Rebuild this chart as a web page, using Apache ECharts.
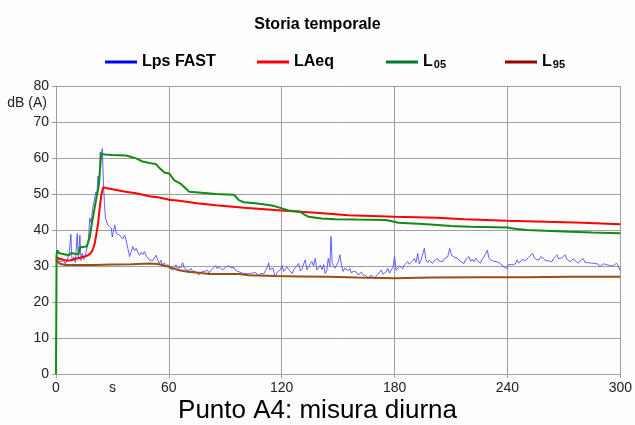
<!DOCTYPE html>
<html>
<head>
<meta charset="utf-8">
<script src="https://cdn.jsdelivr.net/npm/echarts@6/dist/echarts.min.js"></script>
<style>
html,body{margin:0;padding:0;background:#fdfdfd;}
#chart{width:635px;height:425px;}
</style>
</head>
<body>
<div id="chart"></div>
<script>
// ---- data (time in s, level in dB(A)) ----
const seriesNames = ['Lps FAST', 'LAeq', 'L05', 'L95'];
const xTicks = [0, 60, 120, 180, 240, 300];
const yTicks = [0, 10, 20, 30, 40, 50, 60, 70, 80];

const lpsFast = [[0,32.8],[1,32.0],[2,31.2],[3,30.8],[4,31.5],[5,30.6],[6,31.8],[7,33.5],[7.9,38.8],[8.5,31.5],[9.5,32.5],[10.3,31.0],[11.3,39.0],[11.9,32.0],[12.7,38.6],[13.3,31.5],[14,33.5],[14.8,31.8],[15.5,33.0],[16.2,32.5],[17,36.0],[18,43.3],[18.7,42.0],[19.5,46.0],[20.3,45.5],[21.2,50.6],[21.7,49.5],[22.3,55.0],[22.9,53.0],[23.5,61.7],[24,60.5],[24.6,62.6],[25.2,53.4],[25.8,47.0],[26.3,43.3],[26.8,43.2],[27.5,41.4],[28.5,41.8],[29.4,40.5],[29.9,38.1],[31.2,41.4],[32.1,39.0],[32.9,39.5],[33.8,38.6],[34.7,38.1],[35.5,37.5],[36.5,38.6],[37.3,37.0],[38.2,34.9],[39.1,32.6],[40,34.0],[40.8,35.4],[41.7,34.2],[42.6,34.9],[43.5,33.8],[44.4,33.0],[45.3,33.8],[46.2,33.2],[47,34.0],[48,32.8],[48.8,33.3],[49.7,31.7],[50.5,32.2],[51.5,31.5],[52.3,32.0],[53.2,33.0],[54,31.8],[54.9,30.7],[55.8,31.6],[56.7,30.2],[57.6,30.9],[58.5,29.8],[59.4,30.4],[60.2,29.5],[61,30.0],[62,28.9],[62.9,29.6],[63.8,30.3],[64.6,29.4],[65.5,29.0],[66.4,29.6],[67.3,30.9],[68.2,29.5],[69,28.9],[70,29.2],[70.8,28.7],[71.7,29.3],[72.6,28.6],[73.5,29.0],[74.3,28.4],[75.2,28.9],[76,27.5],[77,28.3],[77.8,27.9],[78.7,28.5],[79.6,28.0],[80.5,28.8],[81.4,28.1],[82.3,28.6],[83.2,29.2],[84,29.6],[84.9,30.1],[85.8,29.2],[86.6,29.9],[87.5,29.4],[88.4,28.9],[89.3,28.9],[90.1,29.6],[91,29.2],[91.9,30.1],[92.8,29.5],[93.7,29.0],[94.6,29.6],[95.4,28.8],[96.3,28.9],[97.2,28.4],[98.1,28.7],[99,28.0],[99.8,28.5],[100.7,27.9],[101.6,28.4],[102.5,27.8],[103.4,28.3],[104.3,28.0],[105.2,27.6],[106,28.2],[106.9,27.8],[107.8,27.3],[108.7,27.9],[109.6,28.3],[110.4,27.8],[111.3,28.7],[112.2,29.5],[113.1,30.9],[113.6,29.0],[114.4,28.6],[115.4,29.4],[116.1,27.8],[116.6,27.0],[117.5,28.2],[118.4,27.9],[119.3,29.0],[120.2,30.1],[121,28.5],[121.9,28.7],[122.8,29.7],[123.7,29.2],[124.6,28.5],[125.5,27.9],[126.3,29.0],[127.2,29.4],[128.1,30.0],[129,30.7],[129.9,28.6],[130.8,29.3],[131.6,30.5],[132.5,31.7],[133.4,29.0],[134.3,29.8],[135.2,30.6],[136,31.3],[136.9,30.0],[137.8,32.1],[138.7,28.9],[139.5,29.4],[140.5,30.2],[141.4,29.0],[142.3,30.4],[143.1,27.9],[144,28.8],[144.7,32.1],[145.6,30.0],[146.2,38.2],[146.8,31.0],[147.4,30.2],[148.3,29.4],[149.2,30.3],[150.1,31.2],[150.9,33.1],[151.8,30.1],[152.6,28.5],[153.5,29.4],[154.4,29.0],[155.3,28.7],[156.2,29.3],[157.1,28.0],[158,28.6],[158.9,28.8],[159.7,28.3],[160.6,27.5],[161.5,28.0],[162.4,28.3],[163.2,27.6],[164.1,27.8],[165,27.2],[165.9,26.6],[166.8,27.0],[167.6,27.5],[168.5,27.2],[169.4,26.4],[170.3,27.3],[171.1,27.6],[172,28.2],[172.9,28.9],[173.8,27.7],[174.6,27.9],[175.5,28.4],[176.4,29.3],[177.3,28.0],[178.2,28.4],[179.1,29.6],[180,32.6],[180.8,28.8],[181.7,29.4],[182.6,30.0],[183.5,29.7],[184.3,29.2],[185.2,30.3],[186.1,30.8],[187,31.2],[187.8,30.5],[188.7,30.2],[189.6,31.4],[190.5,32.1],[191.4,31.0],[192.3,33.5],[193.1,30.6],[194,31.5],[194.9,32.0],[195.8,34.9],[196.6,31.8],[197.5,31.0],[198.4,31.6],[199.3,31.2],[200.2,30.7],[201.1,31.5],[202,31.2],[202.8,32.1],[203.7,31.4],[204.6,31.7],[205.5,31.2],[206.4,32.0],[207.3,31.5],[208.2,32.5],[209.3,34.9],[210.2,33.0],[211.1,33.5],[212,32.4],[213.4,32.1],[214.3,31.8],[215.2,31.2],[216,31.6],[216.9,30.7],[217.8,31.8],[218.7,31.7],[219.5,32.6],[220.4,31.3],[221.3,31.9],[222.2,31.2],[223.1,32.2],[224,31.5],[224.8,31.0],[225.7,30.8],[226.6,31.9],[227.5,32.5],[228.4,32.0],[229.3,34.4],[230.1,32.3],[231,31.7],[231.9,31.9],[232.8,31.3],[233.7,31.5],[234.5,31.2],[235.4,31.0],[236.3,30.6],[237.2,30.9],[238.1,29.8],[238.9,30.3],[239.8,29.3],[240.7,30.5],[241.6,30.9],[242.5,30.3],[243.3,29.9],[244.2,30.6],[245.1,31.7],[246,30.8],[246.9,31.0],[247.7,31.8],[248.6,32.1],[249.5,31.5],[250.4,31.9],[251.3,32.4],[252.2,32.0],[253.3,33.5],[254.2,32.4],[255.1,31.8],[256,32.2],[256.8,31.7],[257.7,32.6],[258.6,32.3],[259.2,32.1],[260.1,31.5],[261,32.0],[261.9,31.4],[262.8,31.9],[263.6,31.2],[264.5,32.1],[265.4,32.5],[266.3,33.1],[267.2,32.0],[268,31.6],[268.9,32.3],[269.8,32.6],[270.6,33.1],[271.5,31.9],[272.4,32.1],[273.3,31.2],[274.2,31.6],[275.1,32.0],[276,31.4],[276.8,31.2],[277.7,30.8],[278.6,31.4],[279.5,31.0],[280.3,32.1],[281.2,31.0],[282.1,30.6],[283,30.9],[283.9,30.5],[284.8,30.8],[285.6,31.2],[286.5,30.7],[287.4,30.3],[288.3,30.5],[289.1,29.8],[290,30.3],[290.9,30.6],[291.8,30.1],[292.7,30.4],[293.6,30.6],[294.4,30.1],[295.3,30.4],[296.2,30.0],[297.1,30.3],[298,30.8],[298.8,30.2],[299.7,28.9]];

const laeq = [[0,32.5],[1,32.4],[2,32.0],[3,31.8],[5.6,31.5],[8,31.6],[11,32.1],[13,32.3],[16.2,32.8],[18,33.3],[19,34.0],[20,35.2],[20.6,36.3],[21.5,39],[22.4,41.9],[23.3,46.5],[24.2,50],[25.1,51.9],[26,51.8],[28,51.5],[32.1,51.1],[37,50.6],[42.6,50.2],[49.7,49.4],[55,49.0],[60.2,48.4],[65.5,48.1],[75,47.4],[84.9,46.9],[100,46.2],[120,45.4],[140,44.7],[155.3,44.1],[180,43.7],[202.8,43.4],[217,43.0],[239.8,42.6],[260,42.3],[280,42.0],[300,41.6]];

const l05 = [[0,0],[0.3,33.0],[0.7,34.4],[1.5,33.6],[3,33.4],[5,33.2],[7,33.0],[8,33.6],[10,33.4],[11,33.2],[12,33.3],[12.7,35.2],[14,35.3],[16.2,35.4],[17,36.5],[18,38],[18.8,41],[19.7,43.7],[20.5,46],[21.5,49],[22.3,51],[22.9,53],[23.4,57],[24.1,61.2],[26,61.0],[30,60.8],[37.3,60.7],[40,60.3],[42.6,59.9],[46,59.0],[49.7,58.6],[53.2,58.3],[55,57.2],[57.6,56.0],[60.2,55.7],[62.9,53.8],[66.4,52.8],[68,52.0],[70.8,50.6],[76,50.4],[85,50.0],[94.6,49.8],[97.2,48.3],[99.8,47.7],[106,47.4],[114.8,46.8],[117,46.5],[120.1,46.0],[123.6,45.4],[129.8,45.1],[132,44.3],[134.2,43.7],[141.2,43.2],[148.3,43.0],[160,42.9],[175,42.8],[178,42.5],[182,42.0],[195,41.7],[202.8,41.4],[210,41.1],[220.3,40.9],[239.8,40.7],[242,40.5],[245,40.3],[250.4,40.0],[260,39.8],[273.3,39.5],[285,39.3],[300,39.1]];

const l95 = [[0,31.8],[1,31.2],[2,30.6],[3,30.3],[5,30.3],[10,30.3],[20,30.3],[30,30.4],[40,30.5],[50,30.7],[55,30.5],[58,30.0],[60.2,29.8],[62,29.4],[65.5,28.8],[70,28.4],[76,28.1],[81.4,27.8],[97.2,27.8],[102.5,27.4],[116.6,27.2],[130,27.1],[144.7,27.0],[160,26.8],[180,26.6],[200,26.8],[224,26.9],[250,26.9],[273,27.0],[300,27.0]];

const colors = ['#4646ff', '#ff0000', '#138a13', '#9a4e14'];
const legendColors = ['#0000ff', '#ff0000', '#007a33', '#990000'];
const legendLeft = [100, 252, 381, 500];
const FONT = 'Liberation Sans, Arial, sans-serif';

const chart = echarts.init(document.getElementById('chart'), null, {renderer: 'canvas'});

const legends = seriesNames.map((n, i) => ({
  left: legendLeft[i],
  top: 49,
  data: [{name: n, icon: 'rect', itemStyle: {color: legendColors[i]}}],
  itemWidth: 32,
  itemHeight: 3,
  itemGap: 10,
  selectedMode: false,
  textStyle: {
    fontFamily: FONT, fontSize: 16, fontWeight: 'bold', color: '#000',
    rich: {
      m: {fontFamily: FONT, fontSize: 16, fontWeight: 'bold', color: '#000'},
      s: {fontFamily: FONT, fontSize: 11, fontWeight: 'bold', color: '#000', verticalAlign: 'bottom', padding: [6, 0, 0, 1]}
    }
  },
  formatter: function (name) {
    if (name === 'L05') return '{m|L}{s|05}';
    if (name === 'L95') return '{m|L}{s|95}';
    return '{m|' + name + '}';
  }
}));

const axisGray = '#a0a0a0';

const option = {
  animation: false,
  backgroundColor: '#fdfdfd',
  title: [
    {text: 'Storia temporale', left: 'center', top: 12,
     textStyle: {fontFamily: FONT, fontSize: 16, fontWeight: 'bold', color: '#000'}},
    {text: 'Punto A4: misura diurna', left: 'center', top: 393,
     textStyle: {fontFamily: FONT, fontSize: 26, fontWeight: 'normal', color: '#000'}}
  ],
  legend: legends,
  grid: {left: 56, right: 11, top: 86, bottom: 51, containLabel: false},
  xAxis: [
    {
      type: 'value', min: xTicks[0], max: xTicks[xTicks.length - 1], interval: 60,
      position: 'bottom',
      axisLine: {show: true, lineStyle: {color: axisGray, width: 1}},
      axisTick: {show: true, length: 4, lineStyle: {color: axisGray}},
      splitLine: {show: true, lineStyle: {color: axisGray, width: 1}},
      axisLabel: {fontFamily: FONT, fontSize: 14, color: '#222', margin: 7}
    },
    {
      type: 'value', min: xTicks[0], max: xTicks[xTicks.length - 1], interval: 30,
      position: 'bottom',
      axisLine: {show: false}, axisTick: {show: false}, splitLine: {show: false},
      axisLabel: {fontFamily: FONT, fontSize: 14, color: '#222', margin: 7,
        formatter: v => (v === 30 ? 's' : '')}
    }
  ],
  yAxis: {
    type: 'value', min: yTicks[0], max: yTicks[yTicks.length - 1], interval: 10,
    name: 'dB (A)', nameLocation: 'end', nameGap: -17,
    nameTextStyle: {fontFamily: FONT, fontSize: 14, color: '#222', align: 'right', verticalAlign: 'middle', padding: [0, 9, 0, 0]},
    axisLine: {show: true, lineStyle: {color: axisGray, width: 1}},
    axisTick: {show: true, length: 4, lineStyle: {color: axisGray}},
    splitLine: {show: true, lineStyle: {color: axisGray, width: 1}},
    axisLabel: {fontFamily: FONT, fontSize: 14, color: '#222', margin: 7}
  },
  series: [
    {name: seriesNames[0], type: 'line', data: lpsFast, showSymbol: false, symbol: 'none',
     lineStyle: {color: colors[0], width: 1, opacity: 0.85}, itemStyle: {color: legendColors[0]}, z: 2},
    {name: seriesNames[1], type: 'line', data: laeq, showSymbol: false, symbol: 'none',
     lineStyle: {color: colors[1], width: 2}, itemStyle: {color: legendColors[1]}, z: 3},
    {name: seriesNames[2], type: 'line', data: l05, showSymbol: false, symbol: 'none',
     lineStyle: {color: colors[2], width: 2}, itemStyle: {color: legendColors[2]}, z: 4},
    {name: seriesNames[3], type: 'line', data: l95, showSymbol: false, symbol: 'none',
     lineStyle: {color: colors[3], width: 2}, itemStyle: {color: legendColors[3]}, z: 5}
  ]
};
chart.setOption(option);
</script>
</body>
</html>
